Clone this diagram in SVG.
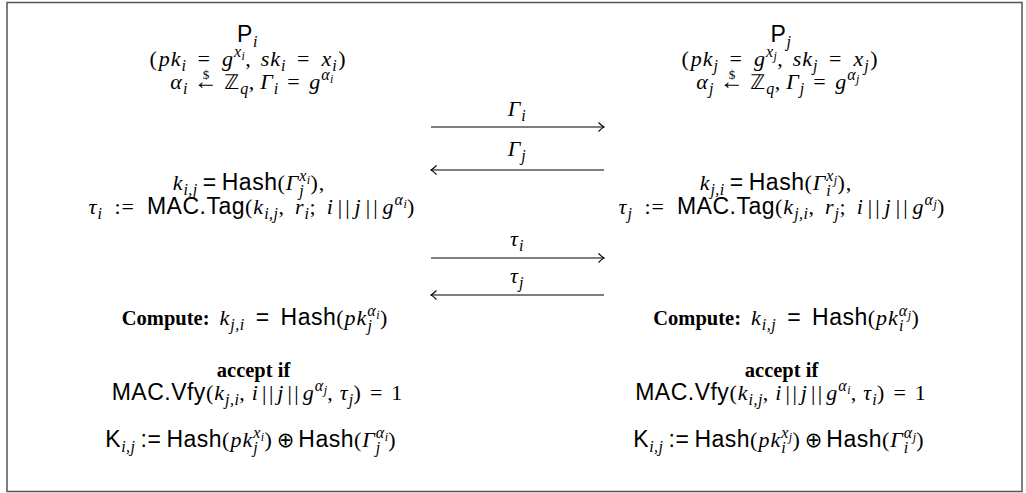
<svg xmlns="http://www.w3.org/2000/svg" width="1026" height="493" viewBox="0 0 1026 493">
<style>
.t{font-size:22px;fill:#000;font-family:"Liberation Serif","DejaVu Serif",serif;font-style:italic;letter-spacing:1px}
.rm{font-family:"Liberation Serif","DejaVu Serif",serif;font-style:normal}
.sf{font-family:"Liberation Sans","DejaVu Sans",sans-serif;font-style:normal;font-size:23px;letter-spacing:0.5px}
.bf{font-family:"Liberation Serif",serif;font-style:normal;font-weight:bold;font-size:20.5px;letter-spacing:0}
.ar{font-family:"Liberation Serif","DejaVu Serif",serif;font-style:normal;font-size:24px;letter-spacing:0}
.op{font-family:"DejaVu Sans",sans-serif;font-style:normal;font-size:21px;letter-spacing:0}
.bb{font-family:"DejaVu Sans",sans-serif;font-style:normal;font-size:20px}
.sb{font-size:16px;letter-spacing:0.5px}
.ss{font-size:12px;letter-spacing:0.3px}
.dol{font-size:13px;font-family:"Liberation Serif",serif;font-style:normal;letter-spacing:0}
.msg{fill:none;stroke:#000;stroke-width:1.2}
.frame{fill:none;stroke:#555;stroke-width:1.5}
</style>
<defs>
<marker id="ah" markerUnits="userSpaceOnUse" markerWidth="12" markerHeight="12" refX="0" refY="0" viewBox="-8 -6 10 12" orient="auto">
<path d="M-5.5,-4.5 Q-2,-1 0,0 Q-2,1 -5.5,4.5" fill="none" stroke="#000" stroke-width="1.1"/>
</marker>
</defs>
<rect class="frame" x="7" y="2.5" width="1015" height="489"/>
<g id="party-i">
<text x="247.5" y="42" class="t" text-anchor="middle"><tspan class="sf">P</tspan><tspan class="sb" dy="5">i</tspan></text>
<text x="248" y="66" class="t" text-anchor="middle"><tspan class="rm">(</tspan><tspan dx="1">pk</tspan><tspan class="sb" dy="5">i</tspan><tspan class="rm" dy="-5" dx="11">=</tspan><tspan dx="11">g</tspan><tspan class="sb" dy="-9">x</tspan><tspan class="ss" dy="3">i</tspan><tspan class="rm" dy="6">,</tspan><tspan dx="9">sk</tspan><tspan class="sb" dy="5">i</tspan><tspan class="rm" dy="-5" dx="11">=</tspan><tspan dx="11">x</tspan><tspan class="sb" dy="5">i</tspan><tspan class="rm" dy="-5" dx="1">)</tspan></text>
<text x="252" y="89" class="t" text-anchor="middle">α<tspan class="sb" dy="5">i</tspan><tspan class="ar" dy="-5" dx="6">←</tspan><tspan class="dol" dx="-15" dy="-10">$</tspan><tspan class="bb" dx="15" dy="10">ℤ</tspan><tspan class="sb" dy="5">q</tspan><tspan class="rm" dy="-5">,</tspan><tspan dx="5">Γ</tspan><tspan class="sb" dy="5">i</tspan><tspan class="rm" dy="-5" dx="8.5">=</tspan><tspan dx="8.5">g</tspan><tspan class="sb" dy="-9">α</tspan><tspan class="ss" dy="3">i</tspan></text>
<text x="249" y="190" class="t" text-anchor="middle">k<tspan class="sb" dy="5">i,j</tspan><tspan class="sf" dy="-5" dx="5">=</tspan><tspan class="sf" dx="5">Hash</tspan><tspan class="rm">(</tspan>Γ<tspan class="sb" dy="6">j</tspan><tspan class="sb" dx="-5" dy="-15">x</tspan><tspan class="ss" dy="3">i</tspan><tspan class="rm" dy="6">),</tspan></text>
<text x="252" y="214" class="t" text-anchor="middle">τ<tspan class="sb" dy="5">i</tspan><tspan class="rm" dy="-5" dx="12">:=</tspan><tspan class="sf" dx="12">MAC.Tag</tspan><tspan class="rm">(</tspan>k<tspan class="sb" dy="5">i,j</tspan><tspan class="rm" dy="-5">,</tspan><tspan dx="10">r</tspan><tspan class="sb" dy="5">i</tspan><tspan class="rm" dy="-5">;</tspan><tspan dx="10">i</tspan><tspan class="rm" dx="4">|</tspan><tspan class="rm" dx="2">|</tspan><tspan dx="4">j</tspan><tspan class="rm" dx="4">|</tspan><tspan class="rm" dx="2">|</tspan><tspan dx="4">g</tspan><tspan class="sb" dy="-9">α</tspan><tspan class="ss" dy="3">i</tspan><tspan class="rm" dy="6">)</tspan></text>
<text x="255" y="325" class="t" text-anchor="middle"><tspan class="bf">Compute:</tspan><tspan dx="10">k</tspan><tspan class="sb" dy="5">j,i</tspan><tspan class="sf" dy="-5" dx="11">=</tspan><tspan class="sf" dx="11">Hash</tspan><tspan class="rm">(</tspan>pk<tspan class="sb" dy="6">j</tspan><tspan class="sb" dx="-5" dy="-15">α</tspan><tspan class="ss" dy="3">i</tspan><tspan class="rm" dy="6">)</tspan></text>
<text x="253.5" y="377" class="t" text-anchor="middle"><tspan class="bf">accept if</tspan></text>
<text x="257.5" y="400" class="t" text-anchor="middle"><tspan class="sf">MAC.Vfy</tspan><tspan class="rm">(</tspan>k<tspan class="sb" dy="5">j,i</tspan><tspan class="rm" dy="-5">,</tspan><tspan dx="6">i</tspan><tspan class="rm" dx="3">|</tspan><tspan class="rm" dx="1.5">|</tspan><tspan dx="3">j</tspan><tspan class="rm" dx="3">|</tspan><tspan class="rm" dx="1.5">|</tspan><tspan dx="3">g</tspan><tspan class="sb" dy="-9">α</tspan><tspan class="ss" dy="3">j</tspan><tspan class="rm" dy="6">,</tspan><tspan dx="6">τ</tspan><tspan class="sb" dy="5">j</tspan><tspan class="rm" dy="-5">)</tspan><tspan class="rm" dx="8">=</tspan><tspan class="rm" dx="8">1</tspan></text>
<text x="251" y="447" class="t" text-anchor="middle"><tspan class="sf">K</tspan><tspan class="sb" dy="5">i,j</tspan><tspan class="sf" dy="-5" dx="5">:=</tspan><tspan class="sf" dx="5">Hash</tspan><tspan class="rm">(</tspan>pk<tspan class="sb" dy="6">j</tspan><tspan class="sb" dx="-5" dy="-15">x</tspan><tspan class="ss" dy="3">i</tspan><tspan class="rm" dy="6">)</tspan><tspan class="op" dx="4">⊕</tspan><tspan class="sf" dx="4">Hash</tspan><tspan class="rm">(</tspan>Γ<tspan class="sb" dy="6">j</tspan><tspan class="sb" dx="-5" dy="-15">α</tspan><tspan class="ss" dy="3">i</tspan><tspan class="rm" dy="6">)</tspan></text>
</g>
<g id="party-j">
<text x="781" y="42" class="t" text-anchor="middle"><tspan class="sf">P</tspan><tspan class="sb" dy="5">j</tspan></text>
<text x="780" y="66" class="t" text-anchor="middle"><tspan class="rm">(</tspan><tspan dx="1">pk</tspan><tspan class="sb" dy="5">j</tspan><tspan class="rm" dy="-5" dx="11">=</tspan><tspan dx="11">g</tspan><tspan class="sb" dy="-9">x</tspan><tspan class="ss" dy="3">j</tspan><tspan class="rm" dy="6">,</tspan><tspan dx="9">sk</tspan><tspan class="sb" dy="5">j</tspan><tspan class="rm" dy="-5" dx="11">=</tspan><tspan dx="11">x</tspan><tspan class="sb" dy="5">j</tspan><tspan class="rm" dy="-5" dx="1">)</tspan></text>
<text x="778" y="89" class="t" text-anchor="middle">α<tspan class="sb" dy="5">j</tspan><tspan class="ar" dy="-5" dx="6">←</tspan><tspan class="dol" dx="-15" dy="-10">$</tspan><tspan class="bb" dx="15" dy="10">ℤ</tspan><tspan class="sb" dy="5">q</tspan><tspan class="rm" dy="-5">,</tspan><tspan dx="5">Γ</tspan><tspan class="sb" dy="5">j</tspan><tspan class="rm" dy="-5" dx="8.5">=</tspan><tspan dx="8.5">g</tspan><tspan class="sb" dy="-9">α</tspan><tspan class="ss" dy="3">j</tspan></text>
<text x="776" y="190" class="t" text-anchor="middle">k<tspan class="sb" dy="5">j,i</tspan><tspan class="sf" dy="-5" dx="5">=</tspan><tspan class="sf" dx="5">Hash</tspan><tspan class="rm">(</tspan>Γ<tspan class="sb" dy="6">i</tspan><tspan class="sb" dx="-5" dy="-15">x</tspan><tspan class="ss" dy="3">j</tspan><tspan class="rm" dy="6">),</tspan></text>
<text x="782" y="214" class="t" text-anchor="middle">τ<tspan class="sb" dy="5">j</tspan><tspan class="rm" dy="-5" dx="12">:=</tspan><tspan class="sf" dx="12">MAC.Tag</tspan><tspan class="rm">(</tspan>k<tspan class="sb" dy="5">j,i</tspan><tspan class="rm" dy="-5">,</tspan><tspan dx="10">r</tspan><tspan class="sb" dy="5">j</tspan><tspan class="rm" dy="-5">;</tspan><tspan dx="10">i</tspan><tspan class="rm" dx="4">|</tspan><tspan class="rm" dx="2">|</tspan><tspan dx="4">j</tspan><tspan class="rm" dx="4">|</tspan><tspan class="rm" dx="2">|</tspan><tspan dx="4">g</tspan><tspan class="sb" dy="-9">α</tspan><tspan class="ss" dy="3">j</tspan><tspan class="rm" dy="6">)</tspan></text>
<text x="786.5" y="325" class="t" text-anchor="middle"><tspan class="bf">Compute:</tspan><tspan dx="10">k</tspan><tspan class="sb" dy="5">i,j</tspan><tspan class="sf" dy="-5" dx="11">=</tspan><tspan class="sf" dx="11">Hash</tspan><tspan class="rm">(</tspan>pk<tspan class="sb" dy="6">i</tspan><tspan class="sb" dx="-5" dy="-15">α</tspan><tspan class="ss" dy="3">j</tspan><tspan class="rm" dy="6">)</tspan></text>
<text x="781.5" y="377" class="t" text-anchor="middle"><tspan class="bf">accept if</tspan></text>
<text x="781" y="400" class="t" text-anchor="middle"><tspan class="sf">MAC.Vfy</tspan><tspan class="rm">(</tspan>k<tspan class="sb" dy="5">i,j</tspan><tspan class="rm" dy="-5">,</tspan><tspan dx="6">i</tspan><tspan class="rm" dx="3">|</tspan><tspan class="rm" dx="1.5">|</tspan><tspan dx="3">j</tspan><tspan class="rm" dx="3">|</tspan><tspan class="rm" dx="1.5">|</tspan><tspan dx="3">g</tspan><tspan class="sb" dy="-9">α</tspan><tspan class="ss" dy="3">i</tspan><tspan class="rm" dy="6">,</tspan><tspan dx="6">τ</tspan><tspan class="sb" dy="5">i</tspan><tspan class="rm" dy="-5">)</tspan><tspan class="rm" dx="8">=</tspan><tspan class="rm" dx="8">1</tspan></text>
<text x="779" y="447" class="t" text-anchor="middle"><tspan class="sf">K</tspan><tspan class="sb" dy="5">i,j</tspan><tspan class="sf" dy="-5" dx="5">:=</tspan><tspan class="sf" dx="5">Hash</tspan><tspan class="rm">(</tspan>pk<tspan class="sb" dy="6">i</tspan><tspan class="sb" dx="-5" dy="-15">x</tspan><tspan class="ss" dy="3">j</tspan><tspan class="rm" dy="6">)</tspan><tspan class="op" dx="4">⊕</tspan><tspan class="sf" dx="4">Hash</tspan><tspan class="rm">(</tspan>Γ<tspan class="sb" dy="6">i</tspan><tspan class="sb" dx="-5" dy="-15">α</tspan><tspan class="ss" dy="3">j</tspan><tspan class="rm" dy="6">)</tspan></text>
</g>
<g id="connectors">
<line class="msg" x1="431" y1="127" x2="604" y2="127" marker-end="url(#ah)"/>
<line class="msg" x1="604" y1="170" x2="431" y2="170" marker-end="url(#ah)"/>
<line class="msg" x1="431" y1="258" x2="604" y2="258" marker-end="url(#ah)"/>
<line class="msg" x1="604" y1="295" x2="431" y2="295" marker-end="url(#ah)"/>
<text x="517" y="116" class="t" text-anchor="middle">Γ<tspan class="sb" dy="5">i</tspan></text>
<text x="517" y="156" class="t" text-anchor="middle">Γ<tspan class="sb" dy="5">j</tspan></text>
<text x="517" y="246" class="t" text-anchor="middle">τ<tspan class="sb" dy="5">i</tspan></text>
<text x="517" y="283" class="t" text-anchor="middle">τ<tspan class="sb" dy="5">j</tspan></text>
</g>
</svg>
